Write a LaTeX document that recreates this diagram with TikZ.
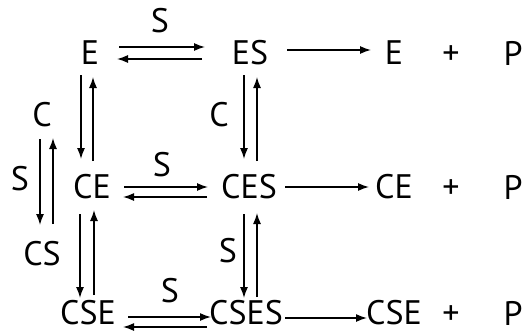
\documentclass[tikz,border=0pt]{standalone}
\usepackage{fontspec}
\setmainfont{PT Sans}
\usetikzlibrary{arrows.meta}
\begin{document}
\begin{tikzpicture}[x=1pt,y=-1pt,
  sp/.style={inner sep=0pt, font=\fontsize{34}{38}\selectfont},
  ar/.style={line width=1.4pt, -{Latex[length=11pt,width=8pt]}}]
\useasboundingbox (0,0) rectangle (524,335);
% species
\node[sp] (E) at (90,53) {E};
\node[sp] (ES) at (250,53) {ES};
\node[sp] (E2) at (394,53) {E};
\node[sp] (pl1) at (451,55) {+};
\node[sp] (P1) at (513,53) {P};
\node[sp] (CE) at (92,187) {CE};
\node[sp] (CES) at (249,187) {CES};
\node[sp] (CE2) at (394,187) {CE};
\node[sp] (pl2) at (451,189) {+};
\node[sp] (P2) at (513,187) {P};
\node[sp] (CSE) at (88,313) {CSE};
\node[sp] (CSES) at (246,313) {CSES};
\node[sp] (CSE2) at (394,313) {CSE};
\node[sp] (pl3) at (451,315) {+};
\node[sp] (P3) at (513,313) {P};
\node[sp] (C1) at (42,115) {C};
\node[sp] (CS) at (42,254) {CS};
% labels
\node[sp] (S1) at (160,21) {S};
\node[sp] (C2) at (219,115) {C};
\node[sp] (S2) at (20,179) {S};
\node[sp] (S3) at (162,165) {S};
\node[sp] (S4) at (228,251) {S};
\node[sp] (S5) at (170,291) {S};
% horizontal
\draw[ar] ([shift={(29,-6)}]E.center) -- ([shift={(-45,-6)}]ES.center);
\draw[ar] ([shift={(-48,6)}]ES.center) -- ([shift={(27,6)}]E.center);
\draw[ar] ([shift={(37,-3)}]ES.center) -- ([shift={(-23,-3)}]E2.center);
\draw[ar] ([shift={(32,0)}]CE.center) -- ([shift={(-41,0)}]CES.center);
\draw[ar] ([shift={(-42,10)}]CES.center) -- ([shift={(31,10)}]CE.center);
\draw[ar] ([shift={(36,0)}]CES.center) -- ([shift={(-25,0)}]CE2.center);
\draw[ar] ([shift={(40,4)}]CSE.center) -- ([shift={(-35,4)}]CSES.center);
\draw[ar] ([shift={(-39,14)}]CSES.center) -- ([shift={(35,14)}]CSE.center);
\draw[ar] ([shift={(39,5)}]CSES.center) -- ([shift={(-27,5)}]CSE2.center);
% vertical
\draw[ar] ([shift={(-9,22)}]E.center) -- ([shift={(-11,-28)}]CE.center);
\draw[ar] ([shift={(1,-26)}]CE.center) -- ([shift={(3,24)}]E.center);
\draw[ar] ([shift={(-6,22)}]ES.center) -- ([shift={(-5,-28)}]CES.center);
\draw[ar] ([shift={(8,-26)}]CES.center) -- ([shift={(7,24)}]ES.center);
\draw[ar] ([shift={(-2,24)}]C1.center) -- ([shift={(-2,-29)}]CS.center);
\draw[ar] ([shift={(11,-30)}]CS.center) -- ([shift={(11,23)}]C1.center);
\draw[ar] ([shift={(-12,27)}]CE.center) -- ([shift={(-8,-15)}]CSE.center);
\draw[ar] ([shift={(6,-18)}]CSE.center) -- ([shift={(2,23)}]CE.center);
\draw[ar] ([shift={(-5,27)}]CES.center) -- ([shift={(-2,-15)}]CSES.center);
\draw[ar] ([shift={(11,-16)}]CSES.center) -- ([shift={(8,26)}]CES.center);
\end{tikzpicture}
\end{document}
